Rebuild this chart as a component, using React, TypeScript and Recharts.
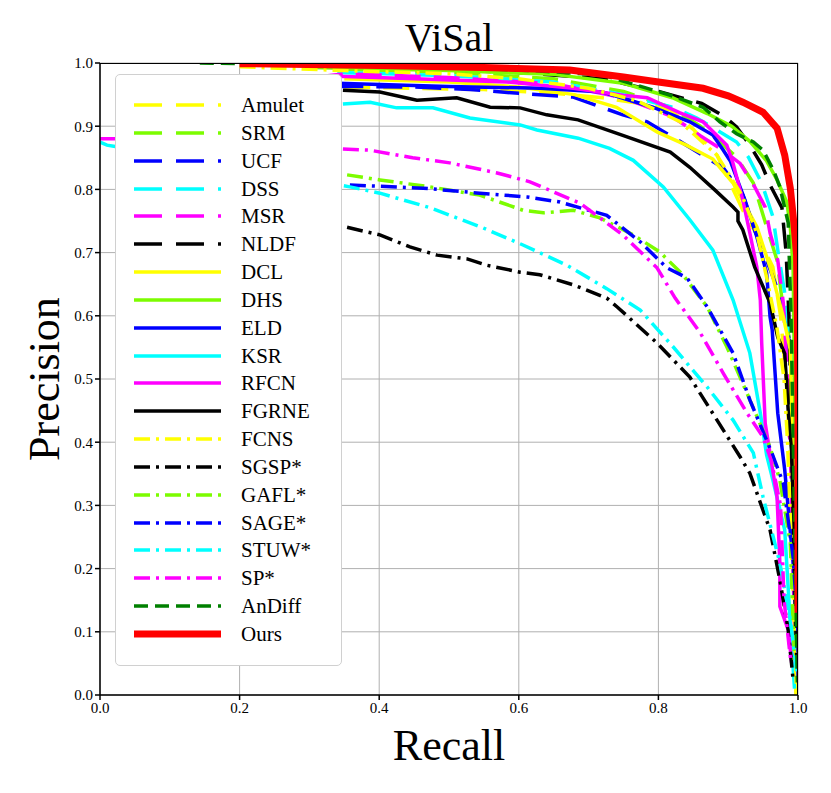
import React from 'react';
import { LineChart, Line, XAxis, YAxis, CartesianGrid } from 'recharts';

type Pt = { r: number; p: number };
const pts = (a: number[][]): Pt[] => a.map(([r, p]) => ({ r, p }));

const amulet = pts([[0.35,0.962],[0.45,0.96],[0.55,0.958],[0.65,0.952],[0.72,0.945],[0.78,0.935],[0.817,0.926],[0.85,0.895],[0.884,0.854],[0.921,0.767],[0.945,0.72],[0.964,0.677],[0.975,0.6],[0.983,0.5],[0.99,0.35],[0.994,0.15],[0.997,0.02]]);
const srm = pts([[0.34,0.99],[0.5,0.985],[0.65,0.975],[0.75,0.955],[0.817,0.93],[0.86,0.9],[0.888,0.875],[0.912,0.851],[0.936,0.81],[0.955,0.741],[0.97,0.688],[0.979,0.609],[0.989,0.557],[0.992,0.4],[0.995,0.25],[0.998,0.05]]);
const ucf = pts([[0.34,0.963],[0.45,0.962],[0.53,0.958],[0.6,0.952],[0.678,0.946],[0.749,0.918],[0.784,0.907],[0.84,0.87],[0.893,0.834],[0.921,0.791],[0.938,0.736],[0.955,0.688],[0.971,0.641],[0.986,0.588],[0.99,0.45],[0.994,0.3],[0.997,0.15],[0.999,0.03]]);
const dss = pts([[0.34,0.985],[0.5,0.98],[0.65,0.97],[0.75,0.95],[0.82,0.93],[0.855,0.913],[0.912,0.875],[0.929,0.851],[0.948,0.81],[0.964,0.757],[0.971,0.704],[0.981,0.636],[0.989,0.557],[0.992,0.45],[0.994,0.3],[0.997,0.1],[0.999,0.02]]);
const msr = pts([[0.0,0.88],[0.024,0.88],[0.1,0.95],[0.35,0.983],[0.5,0.977],[0.65,0.967],[0.75,0.945],[0.82,0.915],[0.86,0.885],[0.895,0.86],[0.917,0.841],[0.938,0.804],[0.953,0.772],[0.96,0.731],[0.971,0.688],[0.979,0.62],[0.985,0.5],[0.99,0.35],[0.994,0.15],[0.997,0.03]]);
const nldf = pts([[0.3,0.998],[0.48,0.99],[0.6,0.985],[0.72,0.975],[0.8,0.955],[0.862,0.936],[0.895,0.915],[0.912,0.899],[0.931,0.87],[0.948,0.839],[0.96,0.807],[0.977,0.771],[0.983,0.7],[0.987,0.6],[0.99,0.45],[0.993,0.3],[0.996,0.1],[0.998,0.0]]);
const dcl = pts([[0.35,0.975],[0.5,0.97],[0.6,0.962],[0.68,0.95],[0.74,0.93],[0.798,0.891],[0.84,0.87],[0.878,0.848],[0.907,0.81],[0.941,0.741],[0.96,0.677],[0.979,0.598],[0.989,0.546],[0.992,0.4],[0.995,0.2],[0.997,0.0]]);
const dhs = pts([[0.3,0.993],[0.5,0.988],[0.65,0.982],[0.75,0.968],[0.82,0.945],[0.87,0.92],[0.905,0.9],[0.931,0.876],[0.955,0.845],[0.97,0.815],[0.984,0.78],[0.989,0.74],[0.993,0.677],[0.995,0.5],[0.997,0.3],[0.999,0.1]]);
const eld = pts([[0.34,0.968],[0.5,0.963],[0.63,0.96],[0.72,0.954],[0.792,0.93],[0.845,0.907],[0.878,0.886],[0.893,0.862],[0.903,0.845],[0.924,0.783],[0.941,0.725],[0.955,0.668],[0.96,0.598],[0.963,0.578],[0.971,0.446],[0.981,0.356],[0.993,0.209],[0.998,0.1],[1.0,0.05]]);
const ksr = pts([[0.348,0.935],[0.387,0.938],[0.425,0.929],[0.477,0.929],[0.53,0.913],[0.602,0.902],[0.626,0.894],[0.685,0.881],[0.73,0.865],[0.764,0.846],[0.807,0.804],[0.845,0.752],[0.878,0.704],[0.907,0.625],[0.931,0.541],[0.946,0.446],[0.955,0.38],[0.964,0.34],[0.981,0.261],[0.991,0.076],[0.995,0.01]]);
const rfcn = pts([[0.34,0.979],[0.45,0.975],[0.583,0.97],[0.678,0.96],[0.749,0.949],[0.784,0.945],[0.831,0.921],[0.864,0.907],[0.898,0.87],[0.907,0.841],[0.921,0.783],[0.931,0.731],[0.941,0.677],[0.946,0.625],[0.948,0.557],[0.953,0.43],[0.97,0.313],[0.974,0.209],[0.974,0.14],[0.986,0.103],[0.991,0.05]]);
const fgrne = pts([[0.348,0.957],[0.401,0.954],[0.454,0.941],[0.511,0.945],[0.559,0.93],[0.602,0.929],[0.64,0.918],[0.685,0.91],[0.75,0.885],[0.817,0.859],[0.845,0.835],[0.88,0.8],[0.907,0.772],[0.914,0.764],[0.914,0.75],[0.921,0.736],[0.938,0.677],[0.96,0.62],[0.971,0.566],[0.981,0.54],[0.986,0.45],[0.991,0.383],[0.994,0.25],[0.997,0.1],[0.999,0.02]]);
const fcns = pts([[0.2,0.994],[0.35,0.988],[0.5,0.983],[0.6,0.975],[0.7,0.96],[0.77,0.94],[0.831,0.907],[0.884,0.854],[0.92,0.79],[0.941,0.731],[0.955,0.661],[0.97,0.58],[0.98,0.5],[0.985,0.4],[0.99,0.25],[0.995,0.1],[0.998,0.0]]);
const sgsp = pts([[0.354,0.74],[0.401,0.728],[0.444,0.709],[0.483,0.696],[0.526,0.69],[0.554,0.68],[0.602,0.669],[0.63,0.665],[0.678,0.649],[0.726,0.628],[0.741,0.614],[0.798,0.557],[0.845,0.503],[0.884,0.435],[0.917,0.377],[0.931,0.351],[0.96,0.261],[0.974,0.182],[0.986,0.103],[0.993,0.024]]);
const gafl = pts([[0.354,0.823],[0.401,0.815],[0.473,0.804],[0.544,0.791],[0.606,0.767],[0.635,0.763],[0.678,0.767],[0.716,0.755],[0.764,0.728],[0.802,0.701],[0.835,0.665],[0.87,0.614],[0.898,0.551],[0.931,0.467],[0.96,0.392],[0.974,0.34],[0.989,0.24],[0.995,0.05]]);
const sage = pts([[0.358,0.807],[0.463,0.802],[0.544,0.794],[0.612,0.788],[0.659,0.78],[0.726,0.759],[0.774,0.717],[0.812,0.676],[0.841,0.66],[0.87,0.614],[0.907,0.541],[0.931,0.467],[0.96,0.39],[0.979,0.335],[0.993,0.218],[1.0,0.1],[1.0,0.02]]);
const stuw = pts([[0.0,0.875],[0.01,0.87],[0.358,0.804],[0.401,0.794],[0.473,0.771],[0.549,0.739],[0.606,0.712],[0.669,0.68],[0.726,0.643],[0.774,0.609],[0.821,0.551],[0.87,0.487],[0.907,0.435],[0.936,0.383],[0.95,0.313],[0.974,0.209],[0.989,0.119],[0.999,0.03]]);
const sp = pts([[0.348,0.864],[0.387,0.862],[0.448,0.85],[0.501,0.842],[0.569,0.826],[0.616,0.812],[0.688,0.778],[0.749,0.728],[0.798,0.676],[0.824,0.628],[0.86,0.573],[0.893,0.509],[0.927,0.446],[0.95,0.408],[0.962,0.37],[0.975,0.3],[0.98,0.15],[0.99,0.05]]);
const andiff = pts([[0.143,1.0],[0.3,0.998],[0.5,0.993],[0.62,0.988],[0.72,0.981],[0.817,0.949],[0.864,0.93],[0.888,0.907],[0.912,0.888],[0.936,0.875],[0.95,0.862],[0.965,0.83],[0.974,0.804],[0.986,0.747],[0.99,0.6],[0.994,0.35],[0.997,0.15],[0.999,0.02]]);
const ours = pts([[0.2,0.999],[0.4,0.996],[0.55,0.993],[0.673,0.989],[0.75,0.978],[0.8,0.97],[0.864,0.96],[0.9,0.948],[0.921,0.938],[0.95,0.922],[0.97,0.897],[0.981,0.854],[0.989,0.802],[0.994,0.748],[0.998,0.696],[0.999,0.6],[1.0,0.45],[1.0,0.13]]);

const LONG = '26 13';
const DASHDOT = '16 6 3 6';
const SHORT = '14 7';

const series = [
  { name: 'Amulet', data: amulet, color: '#FFFF00', dash: LONG, w: 3.5 },
  { name: 'SRM', data: srm, color: '#7CFC00', dash: LONG, w: 3.5 },
  { name: 'UCF', data: ucf, color: '#0000FF', dash: LONG, w: 3.5 },
  { name: 'DSS', data: dss, color: '#00FFFF', dash: LONG, w: 3.5 },
  { name: 'MSR', data: msr, color: '#FF00FF', dash: LONG, w: 3.5 },
  { name: 'NLDF', data: nldf, color: '#000000', dash: LONG, w: 3.5 },
  { name: 'DCL', data: dcl, color: '#FFFF00', dash: undefined, w: 3.5 },
  { name: 'DHS', data: dhs, color: '#7CFC00', dash: undefined, w: 3.5 },
  { name: 'ELD', data: eld, color: '#0000FF', dash: undefined, w: 3.5 },
  { name: 'KSR', data: ksr, color: '#00FFFF', dash: undefined, w: 3.5 },
  { name: 'RFCN', data: rfcn, color: '#FF00FF', dash: undefined, w: 3.5 },
  { name: 'FGRNE', data: fgrne, color: '#000000', dash: undefined, w: 3.5 },
  { name: 'FCNS', data: fcns, color: '#FFFF00', dash: DASHDOT, w: 3.5 },
  { name: 'SGSP*', data: sgsp, color: '#000000', dash: DASHDOT, w: 3.5 },
  { name: 'GAFL*', data: gafl, color: '#7CFC00', dash: DASHDOT, w: 3.5 },
  { name: 'SAGE*', data: sage, color: '#0000FF', dash: DASHDOT, w: 3.5 },
  { name: 'STUW*', data: stuw, color: '#00FFFF', dash: DASHDOT, w: 3.5 },
  { name: 'SP*', data: sp, color: '#FF00FF', dash: DASHDOT, w: 3.5 },
  { name: 'AnDiff', data: andiff, color: '#008000', dash: SHORT, w: 3.5 },
  { name: 'Ours', data: ours, color: '#FF0000', dash: undefined, w: 7 },
];

const xTicks = [0, 0.2, 0.4, 0.6, 0.8, 1.0];
const yTicks = [0, 0.1, 0.2, 0.3, 0.4, 0.5, 0.6, 0.7, 0.8, 0.9, 1.0];

const serif = '"Liberation Serif", "Times New Roman", serif';
const tickStyle = { fill: '#000', fontSize: 15, fontFamily: serif };

export default function App() {
  return (
    <div style={{ position: 'absolute', left: 0, top: 0, width: 831, height: 793, background: '#fff', fontFamily: serif }}>
      <LineChart width={831} height={793} margin={{ top: 63, right: 33, left: 0, bottom: 0 }}>
        <CartesianGrid xAxisId="b" yAxisId="l" stroke="#b0b0b0" strokeWidth={1} />
        <XAxis
          xAxisId="b"
          type="number"
          dataKey="r"
          domain={[0, 1]}
          ticks={xTicks}
          tickFormatter={(v: number) => v.toFixed(1)}
          height={98}
          tick={tickStyle}
          tickSize={5}
          stroke="#000"
          strokeWidth={1.5}
          allowDataOverflow
        />
        <YAxis
          yAxisId="l"
          type="number"
          domain={[0, 1]}
          ticks={yTicks}
          tickFormatter={(v: number) => v.toFixed(1)}
          width={100}
          tick={tickStyle}
          tickSize={5}
          stroke="#000"
          strokeWidth={1.5}
          allowDataOverflow
        />
        {series.map((s) => (
          <Line
            key={s.name}
            xAxisId="b"
            yAxisId="l"
            data={s.data}
            dataKey="p"
            name={s.name}
            type="linear"
            stroke={s.color}
            strokeWidth={s.w}
            strokeDasharray={s.dash}
            dot={false}
            activeDot={false}
            isAnimationActive={false}
          />
        ))}
      </LineChart>

      {/* plot frame (top and right spines) */}
      <div style={{ position: 'absolute', left: 100, top: 63, width: 698, height: 632, boxSizing: 'border-box', borderTop: '1.5px solid #000', borderRight: '1.5px solid #000', pointerEvents: 'none' }} />

      <div style={{ position: 'absolute', left: 0, width: 898, top: 14, textAlign: 'center', fontSize: 40, lineHeight: '48px' }}>ViSal</div>
      <div style={{ position: 'absolute', left: 0, width: 898, top: 720, textAlign: 'center', fontSize: 44, lineHeight: '52px' }}>Recall</div>
      <div
        style={{
          position: 'absolute',
          left: 45,
          top: 379,
          transform: 'translate(-50%, -50%) rotate(-90deg)',
          fontSize: 44,
          lineHeight: '52px',
          whiteSpace: 'nowrap',
        }}
      >
        Precision
      </div>

      <div
        style={{
          position: 'absolute',
          left: 115,
          top: 74,
          width: 227,
          height: 592,
          boxSizing: 'border-box',
          border: '1.5px solid #d0d0d0',
          borderRadius: 5,
          background: '#fff',
        }}
      >
        {series.map((s, i) => (
          <div key={s.name} style={{ position: 'absolute', left: 0, top: 30 + i * 27.84 - 14, height: 28, width: 227 }}>
            <svg width={90} height={28} style={{ position: 'absolute', left: 17, top: 0 }}>
              <line x1={1} y1={14} x2={88} y2={14} stroke={s.color} strokeWidth={s.w} strokeDasharray={s.name === 'Ours' || !s.dash ? undefined : s.dash === LONG ? '28 14' : s.dash} />
            </svg>
            <span style={{ position: 'absolute', left: 125, top: 0, fontSize: 21, lineHeight: '28px' }}>{s.name}</span>
          </div>
        ))}
      </div>
    </div>
  );
}
